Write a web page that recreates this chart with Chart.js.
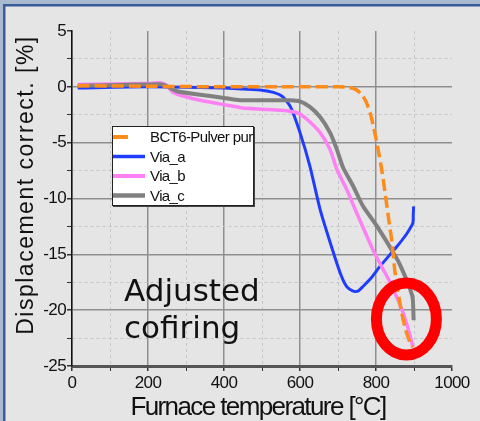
<!DOCTYPE html>
<html>
<head>
<meta charset="utf-8">
<script src="https://cdn.jsdelivr.net/npm/chart.js@4.4.1/dist/chart.umd.min.js"></script>
<style>
html, body { margin: 0; padding: 0; background: #e5e5e5; }
#wrap { width: 480px; height: 421px; }
</style>
</head>
<body>
<div id="wrap"><canvas id="chart" width="480" height="421"></canvas></div>
<script>
// tick labels
const xTickLabels = [0, 200, 400, 600, 800, 1000];
const yTickLabels = [5, 0, -5, -10, -15, -20, -25];

const xTitle = "Furnace temperature [°C]";
const yTitle = "Displacement correct. [%]";
const seriesNames = ["BCT6-Pulver pur", "Via_a", "Via_b", "Via_c"];

// BCT6-Pulver pur
const bct6Temp = [15, 200, 400, 600, 700, 730, 750, 765, 776, 786, 795, 805, 815, 826, 834, 842, 850, 860, 868, 876, 884, 892, 897];
const bct6Disp = [0.1, 0.05, 0, 0, 0, -0.05, -0.3, -0.8, -1.5, -2.5, -3.8, -5.5, -7.4, -10, -12, -13.9, -16.6, -18.8, -20.3, -21.5, -22.4, -23.1, -23.3];

// Via_a
const viaATemp = [15, 200, 400, 450, 500, 530, 555, 575, 600, 626, 653, 679, 705, 723, 740, 752, 765, 790, 810, 855, 880, 897, 898, 899];
const viaADisp = [-0.1, 0, -0.1, -0.2, -0.3, -0.5, -0.9, -1.8, -4.1, -7.1, -11, -13.9, -16.6, -17.9, -18.3, -18.3, -17.9, -17.0, -16.1, -14.3, -13.2, -12.2, -11.5, -10.7];

// Via_b
const viaBTemp = [15, 100, 200, 235, 250, 266, 300, 337, 400, 450, 500, 550, 591, 618, 653, 679, 697, 723, 748, 792, 818, 837, 871, 889, 897];
const viaBDisp = [0.2, 0.25, 0.3, 0.35, 0.1, -0.5, -0.9, -1.2, -1.6, -1.9, -2.0, -2.1, -2.3, -2.9, -4.1, -5.6, -7.4, -9.2, -11.2, -14.6, -16.3, -17.5, -20.2, -22.2, -23.3];

// Via_c
const viaCTemp = [15, 100, 200, 240, 276, 337, 400, 442, 500, 574, 600, 626, 653, 679, 697, 713, 740, 766, 803, 855, 868, 884, 896, 898, 899];
const viaCDisp = [0.1, 0.15, 0.2, 0.2, -0.4, -0.7, -1.0, -1.2, -1.2, -1.2, -1.3, -1.8, -2.7, -4.1, -5.6, -7.2, -8.9, -10.7, -12.5, -15.4, -16.3, -17.6, -18.8, -19.8, -20.9];

// annotation (data units)
const noteLines = ["Adjusted", "cofiring"];
const noteAt = [137, -19.2];
const ringAt = [880, -20.8];

function pts(t, d) {
    return t.map((v, i) => ({ x: v, y: d[i] }));
}

function line(label, t, d, color, width, order, dash) {
    return {
        label: label,
        data: pts(t, d),
        showLine: true,
        borderColor: color,
        backgroundColor: color,
        borderWidth: width,
        borderDash: dash || [],
        pointRadius: 0,
        fill: false,
        tension: 0.2,
        order: order
    };
}

const datasets = [
    line(seriesNames[0], bct6Temp, bct6Disp, "#ff8c1a", 3.5, 0, [12, 5]),
    line(seriesNames[1], viaATemp, viaADisp, "#1f3dff", 3, 3),
    line(seriesNames[2], viaBTemp, viaBDisp, "#ff80f4", 3.5, 2),
    line(seriesNames[3], viaCTemp, viaCDisp, "#808080", 4, 1)
];

function gridColor(ctx, top, isMajor) {
    if (!ctx.tick) return "#8f8f8f";
    const v = ctx.tick.value;
    if (v === top) return "rgba(0,0,0,0)";
    return isMajor(v) ? "#8f8f8f" : "#c6c6c6";
}

const majorX = v => v % 200 === 0;
const majorY = v => v % 5 === 0;

/**
 * background + window frame
 */
const framePlugin = {
    id: "frame",
    beforeDraw(chart) {
        const c = chart.ctx;
        c.save();
        c.fillStyle = "#e5e5e5";
        c.fillRect(0, 0, chart.width, chart.height);
        c.fillStyle = "#a9b9cf";
        c.fillRect(0, 0, chart.width, 4);
        c.fillRect(0, 0, 3, chart.height);
        c.fillStyle = "#3b5c9b";
        c.fillRect(3, 4, chart.width, 2.5);
        c.fillRect(3, 4, 2.5, chart.height);
        c.restore();
        c.letterSpacing = "-0.6px";
    }
};

/**
 * legend, titles, note and ring
 */
const overlayPlugin = {
    id: "overlay",
    afterDraw(chart) {
        const c = chart.ctx;
        const xs = chart.scales.x;
        const ys = chart.scales.y;
        c.save();
        c.letterSpacing = "0px";

        // legend box
        c.fillStyle = "#444";
        c.fillRect(113, 127, 142, 80);
        c.fillStyle = "#ffffff";
        c.fillRect(112, 126, 141, 79);
        c.strokeStyle = "#222";
        c.lineWidth = 1;
        c.strokeRect(112.5, 126.5, 141, 79);

        const rows = [137, 156.5, 176, 195.5];
        c.font = "15px 'Liberation Sans'";
        c.letterSpacing = "-0.6px";
        c.textBaseline = "middle";
        chart.data.datasets.forEach((ds, i) => {
            c.strokeStyle = ds.borderColor;
            c.lineWidth = ds.borderWidth + 0.5;
            c.setLineDash([]);
            c.beginPath();
            c.moveTo(113, rows[i]);
            c.lineTo(ds.borderDash.length ? 128 : 145, rows[i]);
            c.stroke();
            c.fillStyle = "#111";
            c.fillText(ds.label, 150, rows[i] + 1);
        });

        // ring
        c.strokeStyle = "#ff0000";
        c.lineWidth = 11;
        c.beginPath();
        c.ellipse(xs.getPixelForValue(ringAt[0]), ys.getPixelForValue(ringAt[1]), 30, 36, 0, 0, Math.PI * 2);
        c.stroke();

        // note
        c.fillStyle = "#111";
        c.letterSpacing = "0px";
        c.font = "31px 'DejaVu Sans'";
        c.textBaseline = "alphabetic";
        c.textAlign = "left";
        const nx = xs.getPixelForValue(noteAt[0]);
        const ny = ys.getPixelForValue(noteAt[1]);
        noteLines.forEach((t, i) => c.fillText(t, nx, ny + i * 36.5));

        // axis titles
        c.font = "26px 'Liberation Sans'";
        c.letterSpacing = "-1.6px";
        c.textAlign = "center";
        c.fillText(xTitle, 258, 415);

        c.font = "23px 'Liberation Sans'";
        c.letterSpacing = "1.5px";
        c.translate(33, 185);
        c.rotate(-Math.PI / 2);
        c.fillText(yTitle, 0, 0);
        c.restore();
    }
};

new Chart(document.getElementById("chart"), {
    type: "scatter",
    data: { datasets: datasets },
    options: {
        responsive: false,
        devicePixelRatio: 1,
        animation: false,
        layout: { padding: { top: 31, right: 28, bottom: 0, left: 0 } },
        plugins: { legend: { display: false }, tooltip: { enabled: false } },
        scales: {
            x: {
                type: "linear",
                min: 0,
                max: 1000,
                afterFit(scale) { scale.height = 55; },
                ticks: {
                    stepSize: 100,
                    autoSkip: false,
                    maxRotation: 0,
                    padding: 2,
                    color: "#111",
                    font: { family: "Liberation Sans", size: 17 },
                    callback: v => xTickLabels.includes(v) ? String(v) : ""
                },
                grid: {
                    color: ctx => gridColor(ctx, 1000, majorX),
                    lineWidth: ctx => ctx.tick && majorX(ctx.tick.value) ? 1.5 : 1,
                    tickColor: "#333",
                    tickLength: 5
                },
                border: {
                    color: "#555",
                    width: 3,
                    dash: ctx => ctx.tick && !majorX(ctx.tick.value) ? [3, 3] : []
                }
            },
            y: {
                type: "linear",
                min: -25,
                max: 5,
                afterFit(scale) { scale.width = 72; },
                ticks: {
                    stepSize: 2.5,
                    autoSkip: false,
                    padding: 1,
                    color: "#111",
                    font: { family: "Liberation Sans", size: 17 },
                    callback: v => yTickLabels.includes(v) ? String(v) : ""
                },
                grid: {
                    color: ctx => gridColor(ctx, 5, majorY),
                    lineWidth: ctx => ctx.tick && majorY(ctx.tick.value) ? 1.5 : 1,
                    tickColor: "#333",
                    tickLength: 5
                },
                border: {
                    color: "#111",
                    width: 1.5,
                    dash: ctx => ctx.tick && !majorY(ctx.tick.value) ? [3, 3] : []
                }
            }
        }
    },
    plugins: [framePlugin, overlayPlugin]
});
</script>
</body>
</html>
